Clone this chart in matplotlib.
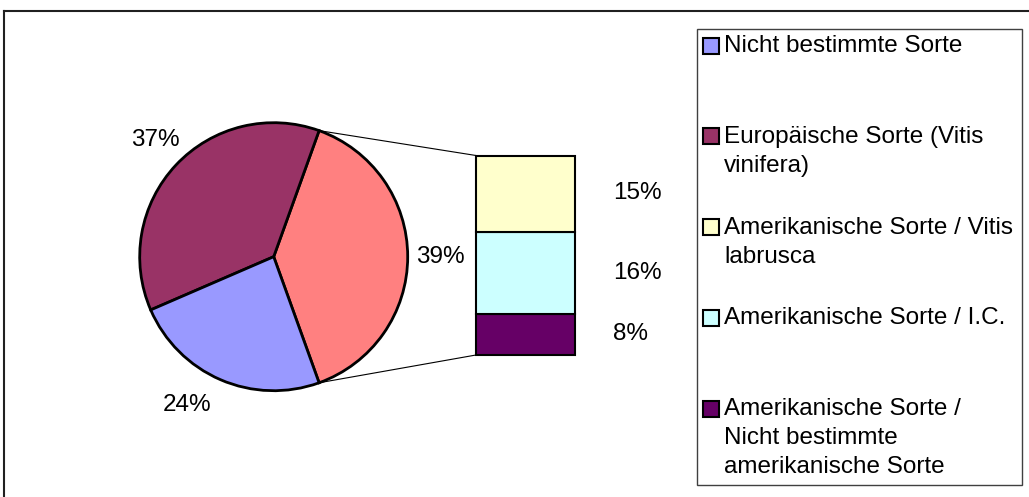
import matplotlib
matplotlib.use("Agg")
from matplotlib import pyplot as plt
from matplotlib.patches import Rectangle
import numpy as np

plt.rcParams['font.family'] = ['Liberation Sans', 'DejaVu Sans']

# data
pie_labels = ['Nicht bestimmte Sorte', 'Europäische Sorte (Vitis vinifera)']
pie_values = [24, 37]
bar_labels = ['Amerikanische Sorte / Vitis labrusca',
              'Amerikanische Sorte / I.C.',
              'Amerikanische Sorte / Nicht bestimmte amerikanische Sorte']
bar_values = [15, 16, 8]
legend_lines = [
    ['Nicht bestimmte Sorte'],
    ['Europäische Sorte (Vitis', 'vinifera)'],
    ['Amerikanische Sorte / Vitis', 'labrusca'],
    ['Amerikanische Sorte / I.C.'],
    ['Amerikanische Sorte /', 'Nicht bestimmte', 'amerikanische Sorte'],
]
pie_colors = ['#9999FF', '#993366']
other_color = '#FF8080'
bar_colors = ['#FFFFCC', '#CCFFFF', '#660066']

W, H = 1029, 497
fig = plt.figure(figsize=(W / 100, H / 100), dpi=100)
ax = fig.add_axes([0, 0, 1, 1])

def fy(y):
    return H - y

fs = 17.5

# pie: other slice centered at 0 deg
other = sum(bar_values)
total = other + sum(pie_values)
half = other / total * 180
cx, cy, r = 273.7, fy(256.7), 134
wedges, _ = ax.pie([other, pie_values[1], pie_values[0]],
                   colors=[other_color, pie_colors[1], pie_colors[0]],
                   startangle=-half, counterclock=True,
                   center=(cx, cy), radius=r,
                   wedgeprops=dict(edgecolor='black', linewidth=2))

# stacked bar
bx0, bx1 = 476, 575
b_bottom = fy(355)
scale = 199.5 / other
bottom = b_bottom
for v, c in zip(bar_values[::-1], bar_colors[::-1]):
    ax.bar((bx0 + bx1) / 2, v * scale, width=bx1 - bx0, bottom=bottom,
           color=c, edgecolor='black', linewidth=1.5)
    bottom += v * scale
b_top = bottom

# connector lines
a = np.deg2rad(half)
ax.plot([cx + r * np.cos(a), bx0], [cy + r * np.sin(a), b_top], color='black', lw=0.8)
ax.plot([cx + r * np.cos(a), bx0], [cy - r * np.sin(a), b_bottom], color='black', lw=0.8)

# percent labels
ax.text(155, fy(140), f'{pie_values[1]}%', fontsize=fs, ha='center', va='center')
ax.text(187, fy(405), f'{pie_values[0]}%', fontsize=fs, ha='center', va='center')
ax.text(440, fy(257), f'{other}%', fontsize=fs, ha='center', va='center')
for v, yy in zip(bar_values, [193, 273, 334]):
    ax.text(613, fy(yy), f'{v}%', fontsize=fs, ha='left', va='center')

# legend
ax.add_patch(Rectangle((697, fy(485)), 1022 - 697, 485 - 28.5,
                       facecolor='white', edgecolor='#404040', lw=1))
legend_colors = pie_colors + bar_colors
for i, (lines, c) in enumerate(zip(legend_lines, legend_colors)):
    y0 = 46 + i * 90.8
    ax.add_patch(Rectangle((703, fy(y0) - 7.5), 16, 16, facecolor=c,
                           edgecolor='black', lw=1.5))
    for k, line in enumerate(lines):
        ax.text(724, fy(y0 + k * 29), line, fontsize=fs, ha='left', va='center')

# outer chart frame
ax.plot([4, W], [fy(11), fy(11)], color='#202020', lw=1.5)
ax.plot([4, 4], [fy(11), 0], color='#202020', lw=1.5)

ax.set_xlim(0, W)
ax.set_ylim(0, H)
ax.set_aspect('auto')
ax.axis('off')

plt.savefig('out.png', dpi=100)
